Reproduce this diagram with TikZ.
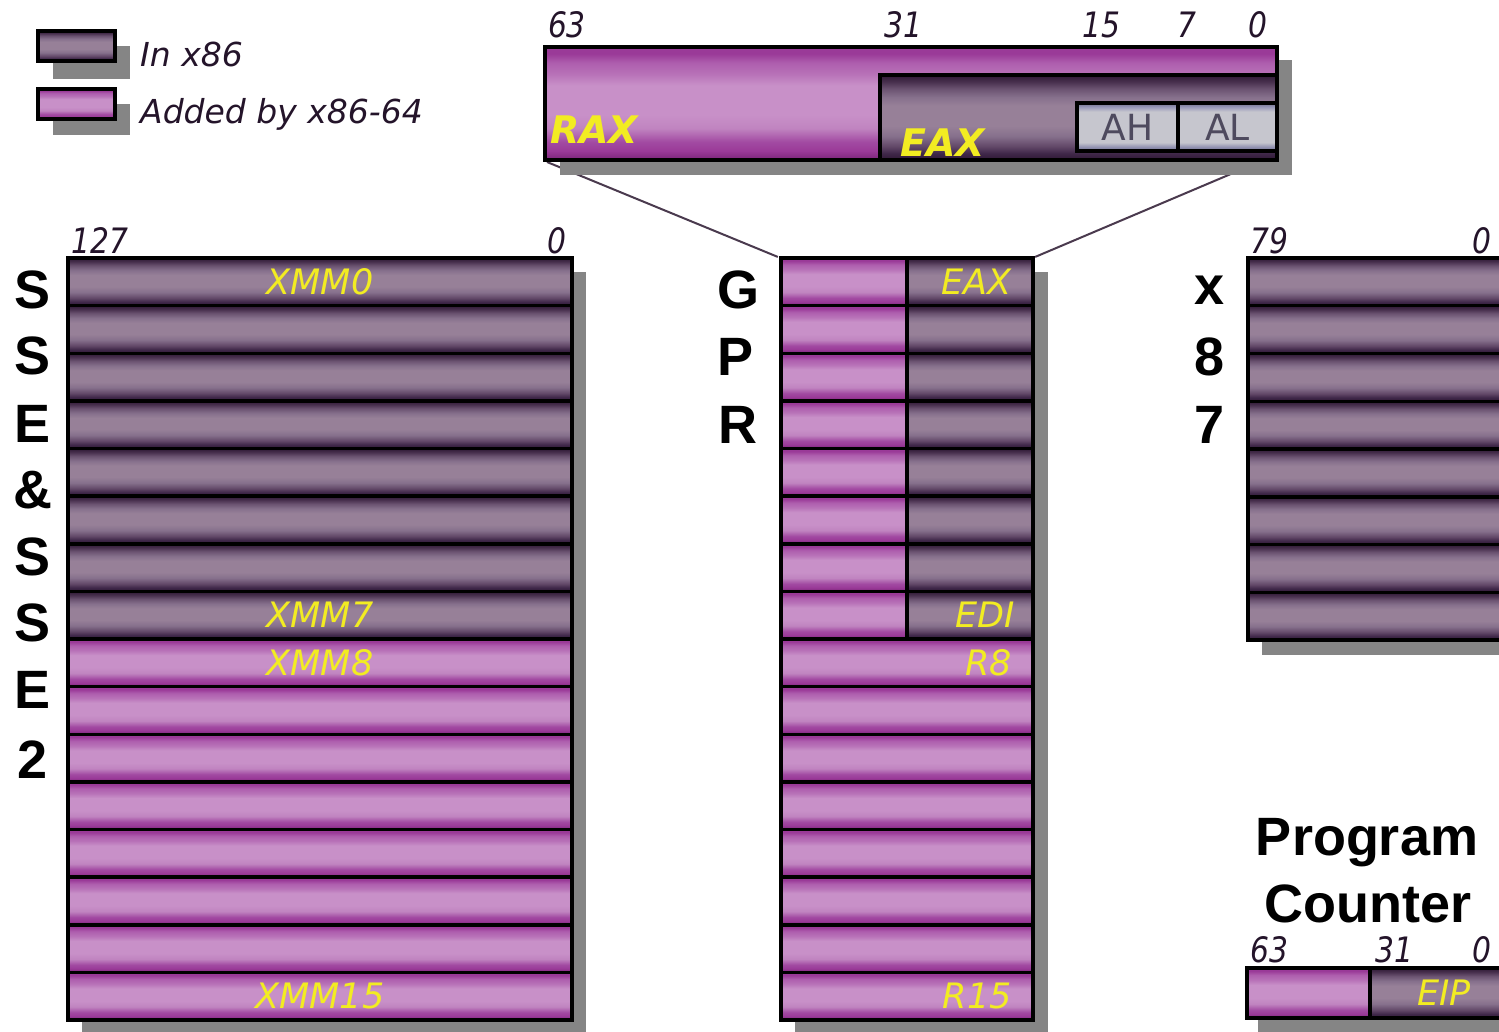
\documentclass[tikz,border=0pt]{standalone}
\usepackage{fontspec}
\usepackage{graphicx}
\setmainfont{DejaVu Sans}
\newfontfamily\headfont{Liberation Sans}

% colours
\definecolor{shadowgray}{HTML}{858585}
\definecolor{linkink}{HTML}{4A3A4E}
\definecolor{numink}{HTML}{24142A}
\definecolor{labelyellow}{HTML}{F2EC22}
\definecolor{ahtext}{HTML}{4E4A5E}
% bar shades (old registers)
\definecolor{oa}{HTML}{2E1834}
\definecolor{ob}{HTML}{48304E}
\definecolor{oc}{HTML}{6A5270}
\definecolor{od}{HTML}{86708C}
\definecolor{oe}{HTML}{978098}
\definecolor{of}{HTML}{624868}
\definecolor{og}{HTML}{40284A}
% bar shades (new registers)
\definecolor{na}{HTML}{7A2478}
\definecolor{nb}{HTML}{9A3A98}
\definecolor{nc}{HTML}{AE5EAE}
\definecolor{nd}{HTML}{C084C0}
\definecolor{ne}{HTML}{C890C8}
\definecolor{nf}{HTML}{B872B8}
\definecolor{ng}{HTML}{A24AA2}
% bar shades (byte halves)
\definecolor{ha}{HTML}{707088}
\definecolor{hb}{HTML}{9090B0}
\definecolor{hc}{HTML}{C6C6CE}
\definecolor{hd}{HTML}{9898B8}

\pgfdeclareverticalshading{oldbar}{100bp}{color(0bp)=(oa); color(25bp)=(oa); color(29bp)=(og); color(33bp)=(of); color(39bp)=(od); color(45bp)=(oe); color(57bp)=(oe); color(62bp)=(od); color(67bp)=(oc); color(71bp)=(ob); color(75bp)=(oa); color(100bp)=(oa)}
\pgfdeclareverticalshading{newbar}{100bp}{color(0bp)=(na); color(25bp)=(na); color(29bp)=(nb); color(33bp)=(ng); color(39bp)=(nd); color(45bp)=(ne); color(58bp)=(ne); color(63bp)=(nf); color(68bp)=(nc); color(72bp)=(nb); color(75bp)=(nb); color(100bp)=(nb)}
\pgfdeclareverticalshading{halfbar}{100bp}{color(0bp)=(ha); color(25bp)=(ha); color(29bp)=(hb); color(34bp)=(hc); color(66bp)=(hc); color(71bp)=(hd); color(75bp)=(ha); color(100bp)=(ha)}

\newcommand{\numfont}{\fontsize{35}{35}\itshape\selectfont}
\newcommand{\nb}[1]{\scalebox{0.85}[1]{#1}}

\begin{document}
\begin{tikzpicture}[x=1pt,y=-1pt,
  reg/.style={draw=black,line width=3.5pt,inner sep=0pt,outer sep=0pt,anchor=north west,shade},
  oldreg/.style={reg,shading=oldbar},
  newreg/.style={reg,shading=newbar},
  halfreg/.style={reg,shading=halfbar,text=ahtext,font=\fontsize{36}{36}\selectfont},
  drop/.style={fill=shadowgray},
  link/.style={draw=linkink,line width=2pt},
  bitnum/.style={inner sep=0pt,anchor=base,text=numink,font=\numfont},
  reglabel/.style={inner sep=0pt,text=labelyellow,font=\fontsize{35}{35}\itshape\selectfont},
  biglabel/.style={inner sep=0pt,anchor=base west,text=labelyellow,font=\fontsize{38}{38}\bfseries\itshape\selectfont},
  legendtext/.style={inner sep=0pt,anchor=base west,text=numink,font=\fontsize{33}{33}\itshape\selectfont},
  headletter/.style={inner sep=0pt,text=black,font=\fontsize{54}{54}\headfont\bfseries\selectfont},
]
\useasboundingbox (0,0) rectangle (1499,1032);
\clip (0,0) rectangle (1499,1032);
\fill[white] (0,0) rectangle (1499,1032);

% ---------- legend ----------
\fill[drop] (53,46) rectangle (130,79);
\node[oldreg,minimum width=77,minimum height=30] (legold) at (38,31) {};
\fill[drop] (53,104) rectangle (130,135);
\node[newreg,minimum width=77,minimum height=30] (legnew) at (38,89) {};
\node[legendtext] (legoldtext) at (140,67) {In x86};
\node[legendtext] (legnewtext) at (140,124) {Added by x86-64};

% ---------- RAX breakdown ----------
\coordinate (raxtap) at (1245,168);
\node[inner sep=0pt,minimum size=0pt] (gprtopL) at (778,257) {};
\node[inner sep=0pt,minimum size=0pt] (gprtopR) at (1035,257) {};
\coordinate (raxfoot) at (547,162);
\draw[link] (raxfoot) -- (gprtopL);
\draw[link] (raxtap) -- (gprtopR);

\fill[drop] (560,60) rectangle (1292,175);
\node[newreg,minimum width=732,minimum height=113] (rax) at (545,47) {};
\node[oldreg,minimum width=397,minimum height=85] (eax) at (880,75) {};
\node[halfreg,minimum width=101,minimum height=48] (ah) at (1077,103) {AH};
\node[halfreg,minimum width=99,minimum height=48] (al) at (1178,103) {AL};
\node[biglabel] (raxname) at (550,144) {RAX};
\node[biglabel] (eaxname) at (900,157) {EAX};

\node[bitnum] (b63) at (567,38) {\nb{63}};
\node[bitnum] (b31) at (903,38) {\nb{31}};
\node[bitnum] (b15) at (1101,38) {\nb{15}};
\node[bitnum] (b7) at (1187,38) {\nb{7}};
\node[bitnum] (b0) at (1258,38) {\nb{0}};

% ---------- SSE & SSE2 ----------
\fill[drop] (82,272) rectangle (586,1040);
\foreach \i in {0,...,7}
  \node[oldreg,minimum width=504,minimum height=47.625] (sse\i) at (68,{258+47.625*\i}) {};
\foreach \i in {8,...,15}
  \node[newreg,minimum width=504,minimum height=47.625] (sse\i) at (68,{258+47.625*\i}) {};
\node[reglabel] (xmm0) at (sse0.center) {XMM0};
\node[reglabel] (xmm7) at (sse7.center) {XMM7};
\node[reglabel] (xmm8) at (sse8.center) {XMM8};
\node[reglabel] (xmm15) at (sse15.center) {XMM15};
\node[bitnum] (s127) at (100,254) {\nb{127}};
\node[bitnum] (s0) at (557,254) {\nb{0}};
\foreach \t/\y [count=\k] in {S/290,S/356,E/424,\&/490,S/557,S/623,E/690,2/760}
  \node[headletter] (ssetitle\k) at (33,\y) {\t};

% ---------- GPR ----------
\fill[drop] (795,272) rectangle (1048,1040);
\foreach \i in {0,...,7}{
  \node[newreg,minimum width=126,minimum height=47.625] (gprh\i) at (781,{258+47.625*\i}) {};
  \node[oldreg,minimum width=126,minimum height=47.625] (gprl\i) at (907,{258+47.625*\i}) {};
}
\foreach \i in {8,...,15}
  \node[newreg,minimum width=252,minimum height=47.625] (gpr\i) at (781,{258+47.625*\i}) {};
\node[reglabel,anchor=east] (geax) at ([xshift=-21pt]gprl0.east) {EAX};
\node[reglabel,anchor=east] (gedi) at ([xshift=-18pt]gprl7.east) {EDI};
\node[reglabel,anchor=east] (gr8) at ([xshift=-21pt]gpr8.east) {R8};
\node[reglabel,anchor=east] (gr15) at ([xshift=-21pt]gpr15.east) {R15};
\foreach \t/\x/\y [count=\k] in {G/738/290,P/735/357,R/738/425}
  \node[headletter] (gprtitle\k) at (\x,\y) {\t};

% ---------- x87 ----------
\fill[drop] (1262,272) rectangle (1530,655);
\foreach \i in {0,...,7}
  \node[oldreg,minimum width=280,minimum height=47.75] (fpu\i) at (1248,{258+47.75*\i}) {};
\node[bitnum] (f79) at (1269,254) {\nb{79}};
\node[bitnum] (f0) at (1482,254) {\nb{0}};
\foreach \t/\y [count=\k] in {x/290,8/357,7/425}
  \node[headletter] (fputitle\k) at (1210,\y) {\t};

% ---------- program counter ----------
\node[headletter,anchor=base] (pcline1) at (1367,855) {Program};
\node[headletter,anchor=base] (pcline2) at (1368,922) {Counter};
\node[bitnum] (p63) at (1269,962) {\nb{63}};
\node[bitnum] (p31) at (1394,962) {\nb{31}};
\node[bitnum] (p0) at (1482,962) {\nb{0}};
\fill[drop] (1258,982) rectangle (1530,1040);
\node[newreg,minimum width=123,minimum height=50] (rip) at (1247,968) {};
\node[oldreg,minimum width=160,minimum height=50] (eip) at (1370,968) {};
\node[reglabel,anchor=base west] (eipname) at (1417,1005) {EIP};
\end{tikzpicture}
\end{document}
